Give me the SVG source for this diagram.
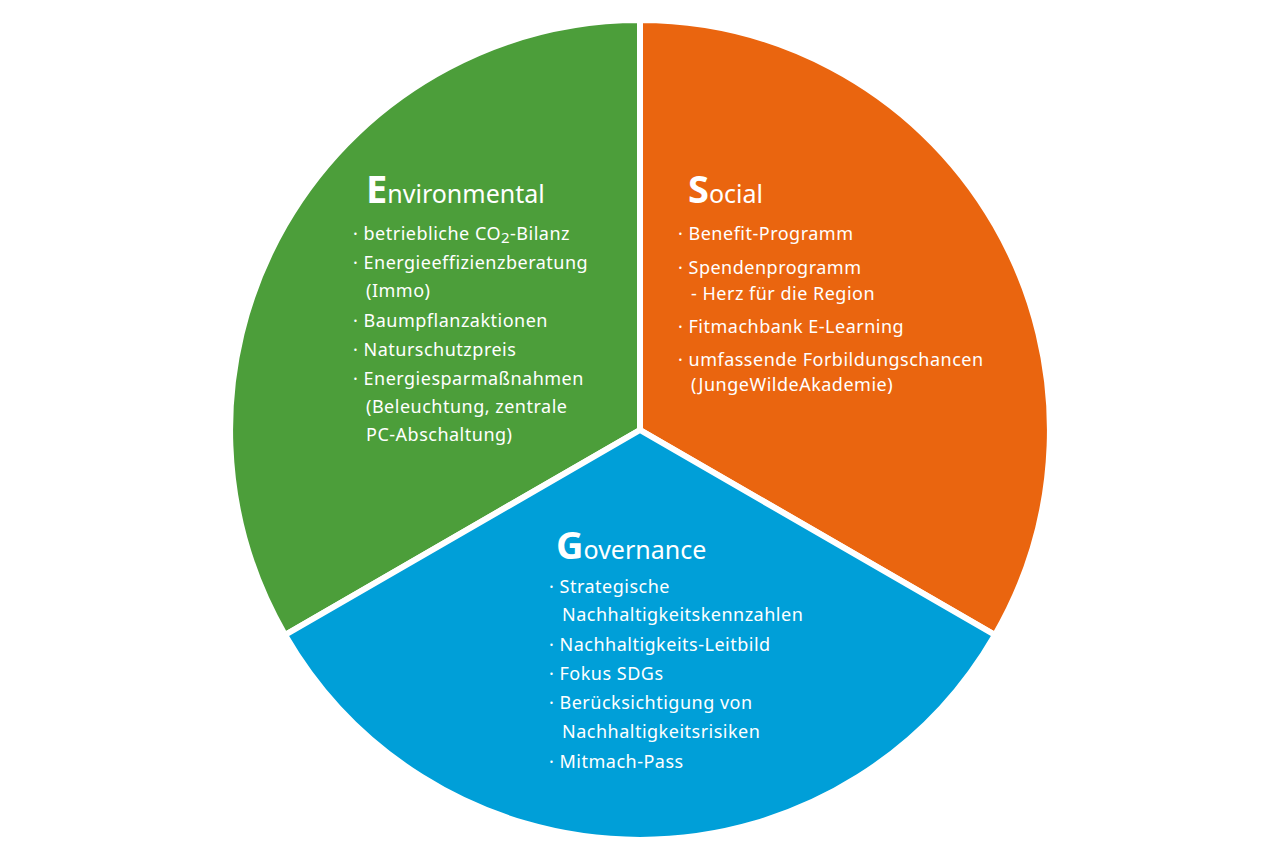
<svg xmlns="http://www.w3.org/2000/svg" width="1280" height="854" viewBox="0 0 1280 854">
<style>
.sec{stroke:#fff;stroke-width:6;stroke-linejoin:round}
text{font-family:"Noto Sans","Liberation Sans",sans-serif;fill:#fff}
.it{font-size:18px;letter-spacing:0.5px}
.t{font-size:25px}
.b{font-size:38px;font-weight:bold}
</style>
<rect width="1280" height="854" fill="#fff"/>
<g id="environmental">
<path class="sec" fill="#4c9e3a" d="M640,430 L640,20 A410,410 0 0,0 285,635 Z"/>
<text x="366" y="203" class="t"><tspan class="b">E</tspan>nvironmental</text>
<text class="it" x="353" y="240">· betriebliche CO<tspan font-size="15" dy="3">2</tspan><tspan dy="-3">-Bilanz</tspan></text>
<text class="it" x="353" y="269">· Energieeffizienzberatung</text>
<text class="it" x="366" y="297">(Immo)</text>
<text class="it" x="353" y="327">· Baumpflanzaktionen</text>
<text class="it" x="353" y="356">· Naturschutzpreis</text>
<text class="it" x="353" y="385">· Energiesparmaßnahmen</text>
<text class="it" x="366" y="413">(Beleuchtung, zentrale</text>
<text class="it" x="366" y="441">PC-Abschaltung)</text>
</g>
<g id="social">
<path class="sec" fill="#ea650f" d="M640,430 L640,20 A410,410 0 0,1 995,635 Z"/>
<text x="688" y="203" class="t"><tspan class="b">S</tspan>ocial</text>
<text class="it" x="678" y="240">· Benefit-Programm</text>
<text class="it" x="678" y="274">· Spendenprogramm</text>
<text class="it" x="691" y="300">- Herz für die Region</text>
<text class="it" x="678" y="333">· Fitmachbank E-Learning</text>
<text class="it" x="678" y="366">· umfassende Forbildungschancen</text>
<text class="it" x="691" y="391">(JungeWildeAkademie)</text>
</g>
<g id="governance">
<path class="sec" fill="#009fd8" d="M640,430 L995,635 A410,410 0 0,1 285,635 Z"/>
<text x="556" y="559" class="t"><tspan class="b">G</tspan>overnance</text>
<text class="it" x="549" y="593">· Strategische</text>
<text class="it" x="562" y="621">Nachhaltigkeitskennzahlen</text>
<text class="it" x="549" y="651">· Nachhaltigkeits-Leitbild</text>
<text class="it" x="549" y="680">· Fokus SDGs</text>
<text class="it" x="549" y="709">· Berücksichtigung von</text>
<text class="it" x="562" y="738">Nachhaltigkeitsrisiken</text>
<text class="it" x="549" y="768">· Mitmach-Pass</text>
</g>
<g id="connectors"/>
</svg>
